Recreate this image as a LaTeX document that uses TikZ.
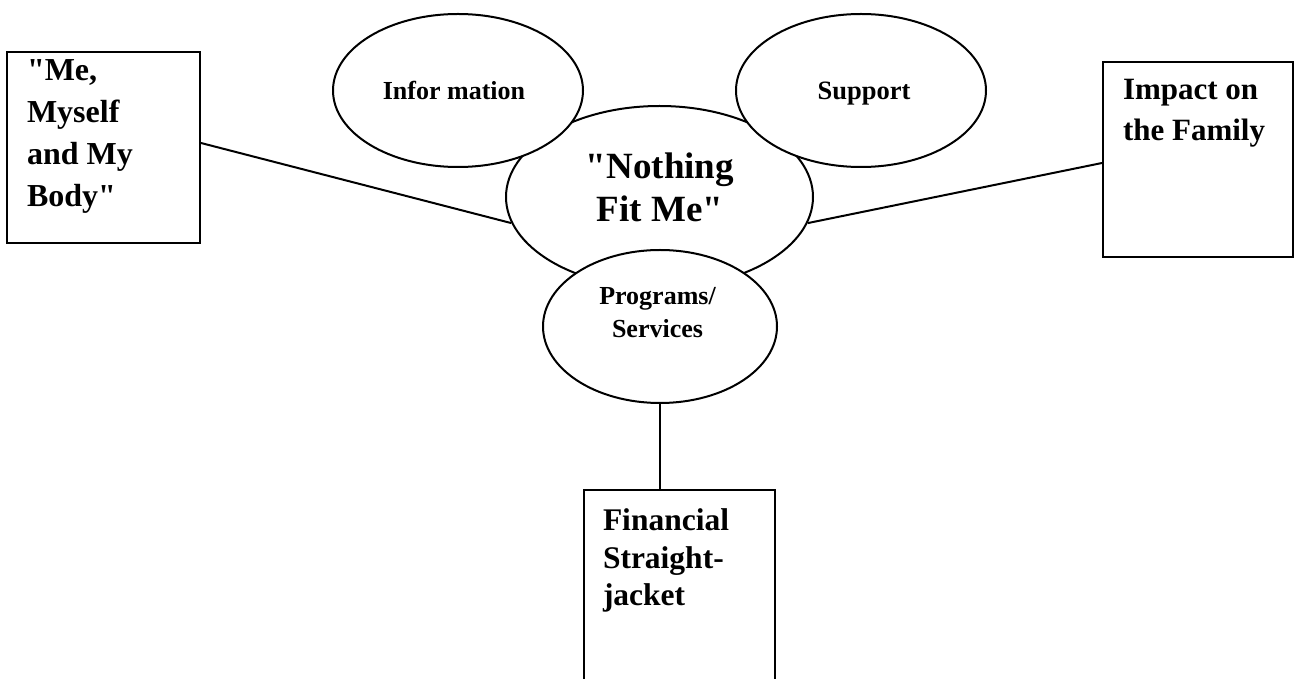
\documentclass[tikz,border=0pt]{standalone}
\usepackage{fontspec}
\setmainfont{Liberation Serif}[Ligatures=TeXOff]
\usetikzlibrary{shapes.geometric}

\tikzset{
	bubble/.style={ellipse, draw, fill=white, inner sep=0pt},
	card/.style={rectangle, draw, inner sep=0pt},
	cardtext/.style={anchor=north west, inner sep=0pt, align=left},
	bubbletext/.style={inner sep=0pt, align=center}
}

\begin{document}
\begin{tikzpicture}[x=0.5pt,y=-0.5pt,line width=1pt]
		\useasboundingbox (0,0) rectangle (1298,679);
		\clip (0,0) rectangle (1298,679);
		% the three boxes
		\node[card,minimum width=96.5pt,minimum height=95.5pt] (body) at (103.5,147.5) {};
		\node[card,minimum width=95pt,minimum height=97.5pt] (family) at (1198,159.5) {};
		\node[card,minimum width=95.5pt,minimum height=120pt] (money) at (679.5,610) {};
		
		% the middle
		\node[bubble,minimum width=153.5pt,minimum height=91pt] (fit) at (659.5,197) {};
		\node[bubble,minimum width=125pt,minimum height=76.5pt] (info) at (458,90.5) {};
		\node[bubble,minimum width=125pt,minimum height=76.5pt] (support) at (861,90.5) {};
		\node[bubble,minimum width=117pt,minimum height=76.5pt] (programs) at (660,326.5) {};
		
		\draw ([yshift=2.25pt]body.east) -- (fit.190);
		\draw (fit.350) -- ([yshift=-1.75pt]family.west);
		\draw (programs.south) -- (programs.south |- money.north);
		
		% texts
		\node[cardtext,font=\fontsize{16}{21}\selectfont\bfseries] (bodytext) at ([xshift=10pt,yshift=-4pt]body.north west) {"Me,\\Myself\\and My\\Body"};
		\node[cardtext,font=\fontsize{15.5}{20.5}\selectfont\bfseries] (familytext) at ([xshift=10pt,yshift=-8.5pt]family.north west) {Impact on\\the Family};
		\node[cardtext,font=\fontsize{15.75}{18.75}\selectfont\bfseries] (moneytext) at ([xshift=9.5pt,yshift=-9.5pt]money.north west) {Financial\\Straight-\\jacket};
		\node[bubbletext,anchor=north,font=\fontsize{18.5}{21.5}\selectfont\bfseries] (fittext) at (660,152) {"Nothing\\Fit Me"};
		\node[bubbletext,anchor=base,font=\fontsize{13}{16.5}\selectfont\bfseries] (infotext) at (454,100) {Infor mation};
		\node[bubbletext,anchor=base,font=\fontsize{13.25}{16.5}\selectfont\bfseries] (supporttext) at (864,100) {Support};
		\node[bubbletext,anchor=north,font=\fontsize{13}{16.5}\selectfont\bfseries] (programstext) at (657.5,286) {Programs/\\Services};
		
\end{tikzpicture}
\end{document}
